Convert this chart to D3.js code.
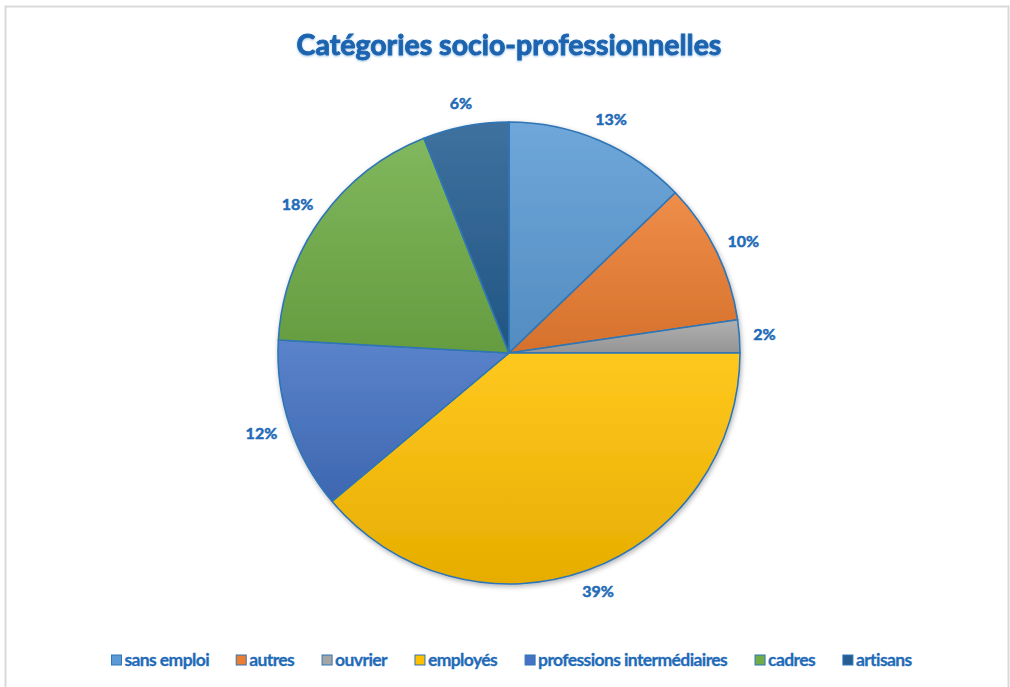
<!DOCTYPE html>
<html>
<head>
<meta charset="utf-8">
<script src="https://cdn.jsdelivr.net/npm/d3@7"></script>
<style>
  html, body { margin: 0; padding: 0; background: #fff; }
  svg { display: block; }
</style>
</head>
<body>
<svg id="chart" width="1010" height="687"></svg>
<script>
const categories = ["sans emploi", "autres", "ouvrier", "employés", "professions intermédiaires", "cadres", "artisans"];
const values = [12.8, 9.9, 2.3, 38.9, 12.0, 18.1, 6.0];
const labels = ["13%", "10%", "2%", "39%", "12%", "18%", "6%"];
const colors = ["#5B9BD5", "#ED7D31", "#A5A5A5", "#FFC000", "#4472C4", "#70AD47", "#255E91"];
const title = "Catégories socio-professionnelles";

const W = 1010, H = 687;
const svg = d3.select("#chart");
const defs = svg.append("defs");

// frame
svg.append("rect").attr("x", 5.5).attr("y", 6.5).attr("width", 1003).attr("height", 700)
  .attr("fill", "#fff").attr("stroke", "#d9d9d9").attr("stroke-width", 2);

// gradients
colors.forEach((c, i) => {
  const g = defs.append("linearGradient").attr("id", "g" + i)
    .attr("x1", 0).attr("y1", 0).attr("x2", 0).attr("y2", 1);
  g.append("stop").attr("offset", "0%").attr("stop-color", d3.interpolateRgb(c, "#fff")(0.12));
  g.append("stop").attr("offset", "100%").attr("stop-color", d3.interpolateRgb(c, "#000")(0.1));
});
const sh = defs.append("filter").attr("id", "shadow").attr("x", "-10%").attr("y", "-10%").attr("width", "120%").attr("height", "120%");
sh.append("feDropShadow").attr("dx", 1).attr("dy", 2).attr("stdDeviation", 2.5).attr("flood-color", "#000").attr("flood-opacity", 0.3);
const tsh = defs.append("filter").attr("id", "tshadow").attr("x", "-5%").attr("y", "-20%").attr("width", "110%").attr("height", "140%");
tsh.append("feDropShadow").attr("dx", 0).attr("dy", 1).attr("stdDeviation", 1.2).attr("flood-color", "#5B9BD5").attr("flood-opacity", 0.6);

// title
svg.append("text").attr("x", 509).attr("y", 55).attr("text-anchor", "middle")
  .attr("font-family", "Lato, 'Open Sans', sans-serif").attr("font-weight", 700)
  .attr("font-size", 28.5).attr("fill", "#1C64B0")
  .attr("stroke", "#1C64B0").attr("stroke-width", 0.9).attr("filter", "url(#tshadow)")
  .text(title);

const cx = 509, cy = 353, R = 231;
const pie = d3.pie().sort(null).value(d => d)(values);
const arc = d3.arc().innerRadius(0).outerRadius(R);

const g = svg.append("g").attr("transform", `translate(${cx},${cy})`);
g.append("g").attr("filter", "url(#shadow)")
  .selectAll("path").data(pie).join("path")
  .attr("d", arc)
  .attr("fill", (d, i) => `url(#g${i})`)
  .attr("stroke", "#2E75B6").attr("stroke-width", 1.6).attr("stroke-linejoin", "round");

// labels: outside end, box edge at fixed gap from arc
const lab = g.selectAll("text.lbl").data(pie).join("text").attr("class", "lbl")
  .attr("text-anchor", "middle").attr("dy", "0.36em")
  .attr("font-family", "Lato, 'Open Sans', sans-serif").attr("font-weight", 700)
  .attr("font-size", 16).attr("fill", "#1F6BB8")
  .attr("stroke", "#1F6BB8").attr("stroke-width", 0.5)
  .text((d, i) => labels[i]);
lab.each(function(d) {
  const bb = this.getBBox();
  const a = (d.startAngle + d.endAngle) / 2;
  const s = Math.sin(a), c = Math.cos(a);
  const r = R + 14;
  const x = r * s + s * bb.width / 2;
  const y = -r * c - c * 9;
  d3.select(this).attr("transform", `translate(${x},${y})`);
});

// legend
const legend = svg.append("g").attr("font-family", "Lato, 'Open Sans', sans-serif")
  .attr("font-weight", 700).attr("font-size", 17.5).attr("fill", "#1F6BB8");
const items = legend.selectAll("g").data(categories).join("g");
items.append("rect").attr("width", 10).attr("height", 10).attr("y", -11)
  .attr("fill", (d, i) => colors[i]).attr("stroke", "#2E75B6").attr("stroke-width", 1);
items.append("text").attr("x", 13).attr("y", 0).attr("letter-spacing", -0.6)
  .attr("stroke", "#1F6BB8").attr("stroke-width", 0.3).text(d => d);
const gap = 27;
let widths = [];
items.each(function() { widths.push(this.getBBox().width); });
const total = d3.sum(widths) + gap * (widths.length - 1);
let x = (W - total) / 2 + 7;
items.each(function(d, i) {
  d3.select(this).attr("transform", `translate(${x},666)`);
  x += widths[i] + gap;
});
</script>
</body>
</html>
